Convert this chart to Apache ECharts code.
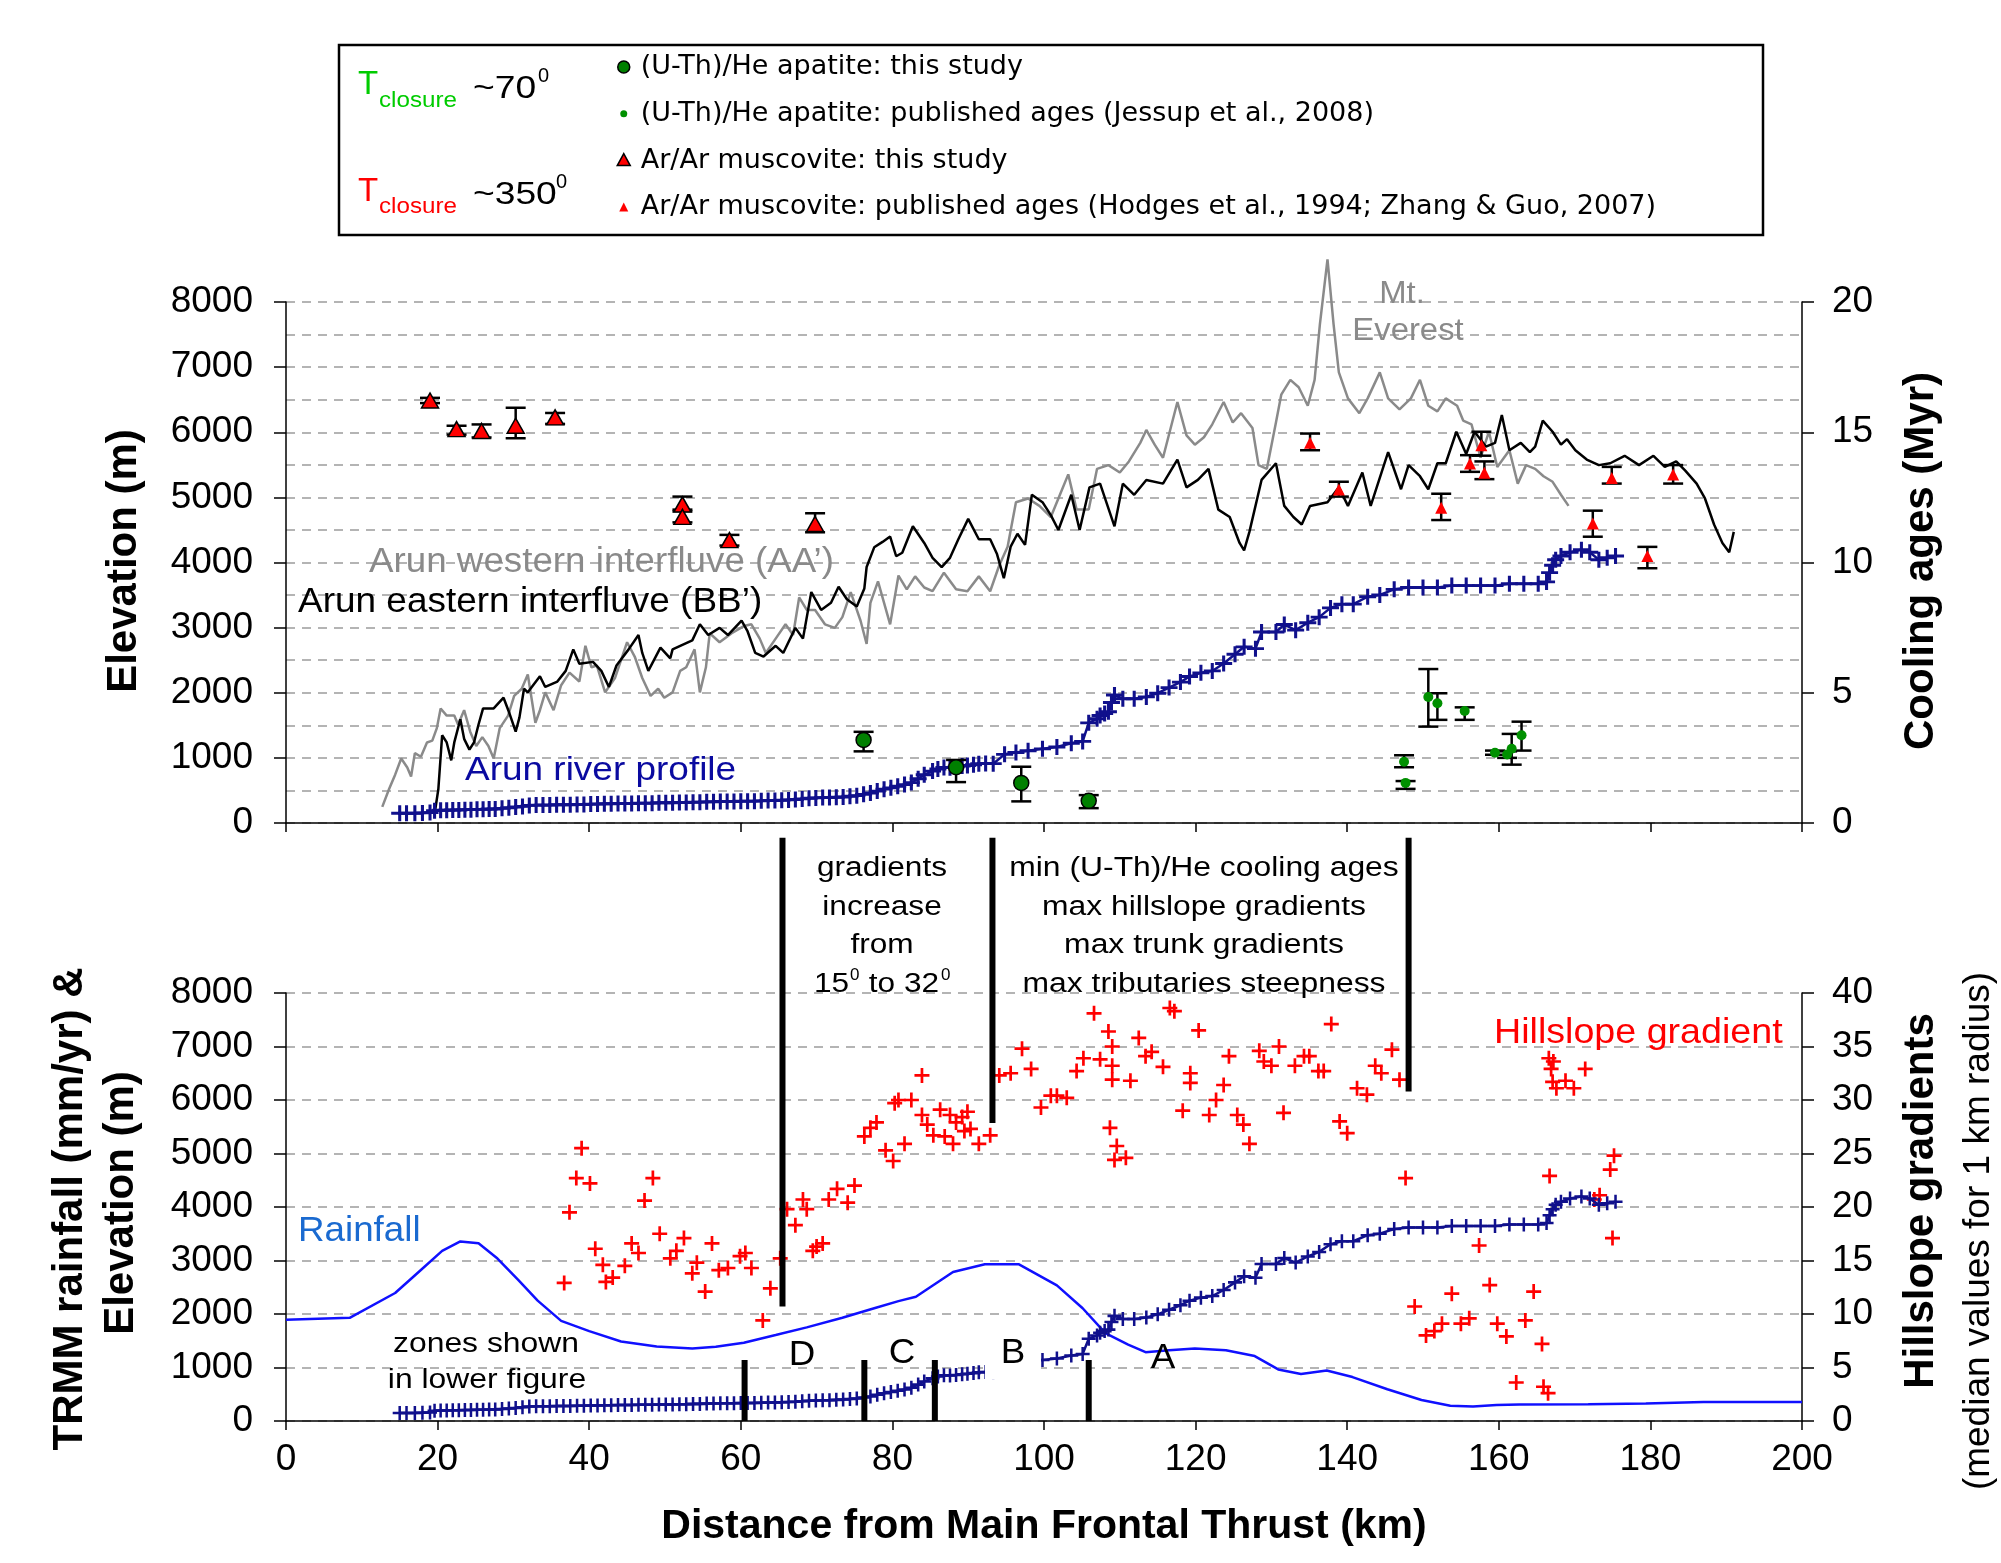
<!DOCTYPE html>
<html><head><meta charset="utf-8">
<script src="https://cdn.jsdelivr.net/npm/echarts@6/dist/echarts.min.js"></script>
<style>html,body{margin:0;padding:0;background:#fff}#c{width:2001px;height:1563px}</style>
</head><body><div id="c"></div>
<script>
// ---------------- DATA (km from Main Frontal Thrust) ----------------
const xTickValues = [0,20,40,60,80,100,120,140,160,180,200];

// Arun western interfluve (AA') elevation profile [km, m]
const westernInterfluve = [[12.7,247],[13.6,522],[14.4,742],[15.2,990],[16.0,852],[16.5,715],[17.0,1072],[17.8,1017],[18.6,1237],[19.3,1264],[19.9,1457],[20.4,1759],[21.2,1649],[22.2,1649],[22.7,1512],[23.5,1732],[24.3,1402],[25.1,1182],[25.9,1319],[26.7,1182],[27.4,990],[28.2,1457],[29.3,1649],[30.1,1952],[31.1,2061],[31.9,2281],[32.9,1539],[33.5,1732],[34.2,2006],[35.3,1732],[36.3,2116],[37.4,2309],[38.7,2172],[39.5,2721],[40.3,2391],[41.0,2419],[42.1,2006],[43.4,2226],[45.0,2776],[46.0,2556],[47.0,2226],[48.1,1952],[49.1,2061],[49.9,1924],[51.0,2006],[52.0,2336],[52.8,2391],[53.9,2666],[54.6,2006],[55.4,2391],[55.9,2914],[57.2,2776],[58.8,2914],[60.4,3024],[61.4,3051],[62.5,2831],[63.3,2611],[64.6,2831],[65.9,3051],[66.9,2886],[67.7,3463],[68.7,3271],[69.8,3271],[71.1,3051],[72.4,2996],[73.4,3161],[74.5,3546],[75.8,3106],[76.6,2749],[77.1,3381],[78.1,3711],[78.9,3381],[79.7,3051],[80.8,3800],[81.9,3588],[83.0,3787],[84.2,3616],[85.3,3559],[86.8,3844],[88.4,3588],[89.9,3559],[91.4,3787],[92.9,3559],[94.1,3958],[95.2,4243],[96.3,4926],[97.9,4983],[99.4,4869],[100.9,4698],[102.1,5040],[103.2,5353],[104.3,4812],[105.9,4812],[107.0,5438],[108.5,5495],[110.0,5381],[111.2,5552],[112.7,5837],[113.5,6036],[114.6,5809],[115.7,5609],[117.6,6464],[118.8,5951],[119.9,5809],[121.1,5923],[122.2,6122],[123.7,6464],[124.9,6150],[126.0,6293],[127.5,6065],[128.3,5495],[129.4,5438],[130.6,6150],[131.3,6577],[132.5,6805],[133.6,6691],[134.8,6407],[135.7,6805],[136.4,7660],[137.4,8656],[138.2,7660],[138.9,6919],[140.1,6520],[141.6,6293],[142.7,6520],[144.3,6919],[145.4,6520],[146.9,6350],[148.4,6520],[149.6,6805],[150.7,6407],[151.9,6321],[153.0,6520],[154.5,6407],[155.3,6179],[156.4,6122],[157.6,5609],[158.7,6008],[159.8,5467],[161.4,5723],[162.5,5211],[163.6,5495],[164.8,5438],[165.9,5325],[167.1,5239],[168.2,5040],[169.2,4869]];

// Arun eastern interfluve (BB') elevation profile [km, m]
const easternInterfluve = [[19.6,137],[20.1,522],[20.6,1347],[21.2,1237],[21.8,962],[22.2,1237],[23.0,1594],[23.5,1292],[24.2,1127],[24.8,1237],[25.4,1512],[26.0,1759],[27.4,1759],[28.7,1924],[29.5,1677],[30.3,1402],[30.8,1622],[31.4,2061],[31.9,2006],[33.5,2254],[34.2,2089],[35.8,2172],[36.9,2336],[37.9,2666],[38.7,2446],[40.5,2474],[41.6,2336],[42.6,2089],[43.6,2419],[45.2,2666],[46.5,2886],[47.0,2611],[47.8,2336],[49.4,2694],[50.7,2529],[51.0,2666],[53.6,2804],[54.6,3051],[55.7,2886],[57.2,2996],[58.3,2886],[60.1,3106],[60.9,2941],[61.9,2611],[63.0,2556],[64.6,2721],[65.6,2611],[67.2,2996],[68.2,2831],[69.3,3546],[70.6,3271],[71.9,3381],[72.9,3628],[74.0,3436],[75.3,3326],[76.3,3601],[76.6,3931],[77.6,4233],[78.7,4316],[79.7,4398],[80.5,4096],[81.3,4150],[82.7,4556],[84.2,4300],[85.3,4072],[86.5,3929],[87.6,4072],[88.7,4357],[90.0,4670],[91.4,4357],[92.9,4357],[93.8,4129],[94.7,3759],[95.6,4243],[96.5,4442],[97.5,4271],[98.4,5040],[99.8,4926],[100.9,4727],[101.9,4499],[103.6,5040],[104.7,4499],[106.0,5154],[107.4,5211],[109.3,4556],[110.4,5211],[111.9,5040],[113.5,5268],[115.7,5211],[117.6,5581],[118.8,5154],[120.3,5268],[121.7,5438],[123.0,4812],[124.5,4698],[125.8,4300],[126.4,4186],[127.1,4470],[128.7,5268],[130.6,5524],[131.7,4869],[132.9,4698],[134.0,4584],[135.1,4869],[137.4,4926],[138.9,5154],[140.1,4869],[142.0,5381],[143.1,4869],[145.4,5695],[147.1,5125],[148.1,5495],[149.6,5325],[150.7,5125],[151.9,5524],[153.0,5524],[154.4,6008],[155.7,5666],[156.8,6008],[158.3,5780],[159.5,5837],[160.4,6264],[161.4,5723],[162.9,5837],[164.1,5695],[164.8,5780],[165.8,6179],[167.1,6008],[168.2,5809],[169.0,5894],[170.1,5723],[171.6,5581],[173.2,5495],[174.7,5524],[176.6,5638],[178.5,5495],[180.4,5638],[181.9,5467],[183.4,5552],[184.6,5410],[186.1,5211],[187.2,4983],[188.4,4584],[189.5,4300],[190.4,4157],[191.0,4470]];

// Arun river profile [km, m]
const riverProfile = [[15.0,150],[15.9,150],[17.0,150],[18.0,155],[19.0,160],[19.6,190],[20.4,195],[21.2,195],[22.0,200],[22.8,200],[23.6,205],[24.4,205],[25.2,210],[26.0,210],[26.8,215],[27.6,215],[28.5,225],[29.4,235],[30.3,245],[31.2,255],[32.1,270],[33.0,275],[33.9,275],[34.8,275],[35.7,280],[36.6,280],[37.5,280],[38.4,285],[39.3,285],[40.2,290],[41.1,290],[42.0,295],[42.9,295],[43.8,300],[44.7,300],[45.6,300],[46.5,305],[47.4,305],[48.3,305],[49.2,310],[50.1,310],[51.0,310],[51.9,315],[52.8,315],[53.7,320],[54.6,320],[55.5,325],[56.4,325],[57.3,330],[58.2,330],[59.1,330],[60.0,335],[60.9,335],[61.8,335],[62.7,340],[63.6,345],[64.5,345],[65.4,350],[66.3,355],[67.2,360],[68.1,370],[69.0,380],[69.9,385],[70.8,390],[71.7,390],[72.6,395],[73.5,400],[74.4,410],[75.3,420],[76.2,440],[77.1,460],[78.0,490],[78.9,520],[79.8,540],[80.7,565],[81.6,590],[82.5,620],[83.4,680],[84.2,740],[85.3,797],[86.0,830],[86.8,854],[87.6,850],[88.4,860],[89.2,875],[89.9,883],[90.7,895],[91.4,911],[92.3,915],[93.3,911],[94.8,1054],[96.3,1082],[97.9,1110],[99.8,1139],[101.7,1167],[103.6,1224],[105.1,1253],[105.9,1538],[107.0,1600],[107.4,1651],[108.0,1680],[108.5,1708],[108.9,1851],[109.3,1965],[110.4,1908],[111.9,1908],[113.5,1936],[115.0,1993],[116.5,2079],[118.0,2164],[119.2,2249],[120.7,2306],[122.2,2335],[123.7,2449],[125.2,2591],[126.4,2705],[127.9,2677],[128.7,2933],[130.6,2933],[131.7,3047],[133.2,2961],[134.8,3075],[136.3,3161],[137.8,3303],[139.3,3360],[140.8,3360],[142.7,3474],[144.3,3502],[146.2,3588],[148.1,3616],[150.0,3616],[151.9,3616],[153.8,3645],[155.7,3645],[157.6,3645],[159.5,3645],[161.4,3673],[163.3,3673],[165.2,3673],[166.3,3702],[166.7,3844],[167.1,3958],[167.5,4043],[168.2,4100],[169.4,4157],[170.9,4197],[172.0,4157],[173.2,4043],[174.3,4072],[175.4,4100]];

// Cooling ages [km, age Myr, error low, error high]
const arArThisStudy = [[19.0,16.22,16.12,16.32],[22.5,15.12,14.91,15.25],[25.8,15.05,14.8,15.3],[30.3,15.25,14.77,15.94],[35.5,15.57,15.32,15.74],[52.3,12.23,12.03,12.53],[52.3,11.75,11.54,11.96],[58.5,10.86,10.65,11.06],[69.8,11.48,11.16,11.89]];
const arArPublished = [[135.1,14.6,14.31,14.95],[138.9,12.8,12.53,13.1],[152.4,12.1,11.63,12.64],[156.2,13.8,13.48,14.12],[157.7,14.5,14.1,15.02],[158.1,13.45,13.2,13.88],[172.4,11.5,10.99,11.99],[174.9,13.24,13.03,13.67],[179.6,10.25,9.78,10.6],[183.0,13.38,13.03,13.74]];
const uThHeThisStudy = [[76.2,3.19,2.75,3.5],[88.4,2.14,1.57,2.42],[97.0,1.54,0.83,2.16],[105.9,0.85,0.57,1.07]];
const uThHePublished = [[147.5,2.35,2.14,2.6],[147.7,1.54,1.31,1.61],[150.7,4.84,3.7,5.91],[151.9,4.6,3.96,4.98],[155.5,4.3,3.96,4.44],[159.5,2.7,2.62,2.78],[161.1,2.63,2.5,2.75],[161.7,2.85,2.24,3.42],[163.0,3.37,2.78,3.89]];

// TRMM rainfall [km, mm/yr]
const rainfall = [[0,1893],[8.4,1929],[14.4,2393],[17.5,2786],[20.6,3179],[23.0,3357],[25.4,3321],[27.9,3036],[30.6,2643],[33.2,2250],[36.3,1871],[40.0,1679],[44.2,1486],[48.9,1393],[53.6,1357],[56.7,1386],[60.4,1464],[64.6,1607],[68.7,1750],[73.4,1929],[77.6,2107],[80.8,2240],[83.1,2321],[88.0,2786],[92.2,2929],[96.7,2929],[101.7,2536],[105.1,2107],[108.1,1643],[111.1,1429],[113.4,1286],[116.5,1321],[119.9,1357],[124.0,1321],[127.8,1214],[130.9,964],[133.9,879],[137.3,943],[140.7,821],[145.3,593],[149.8,393],[153.6,286],[156.6,271],[159.7,300],[162.7,307],[171.8,314],[179.4,329],[187.0,357],[200.0,357]];

// Hillslope gradient (median for 1 km radius) [km, degrees]
const hillslopeGradient = [[36.7,12.9],[37.4,19.5],[38.3,22.7],[39.0,25.5],[40.1,22.2],[40.8,16.1],[41.8,14.6],[42.2,13.0],[43.1,13.4],[44.7,14.5],[45.6,16.6],[46.5,15.7],[47.3,20.6],[48.4,22.7],[49.3,17.5],[50.7,15.2],[51.5,15.9],[52.5,17.1],[53.6,13.8],[54.2,14.8],[55.3,12.1],[56.2,16.6],[57.1,14.1],[58.3,14.3],[59.9,15.4],[60.6,15.7],[61.4,14.3],[62.9,9.4],[63.9,12.4],[65.2,15.2],[66.1,19.8],[67.2,18.3],[68.2,20.7],[68.7,19.8],[69.5,15.9],[70.0,16.3],[70.8,16.6],[71.6,20.7],[72.7,21.7],[74.1,20.4],[75.0,22.0],[76.3,26.6],[77.1,27.4],[77.9,27.9],[79.1,25.3],[80.1,24.3],[80.3,29.7],[80.8,30.0],[81.6,25.9],[82.5,30.0],[83.9,32.3],[83.9,28.6],[84.6,27.7],[85.4,26.7],[86.3,29.1],[86.9,26.6],[87.6,28.6],[88.0,25.9],[88.4,27.9],[89.2,28.4],[89.5,27.1],[89.9,28.9],[90.3,27.3],[91.4,25.9],[92.9,26.7],[94.1,32.3],[95.6,32.5],[97.1,34.8],[98.3,32.9],[99.6,29.3],[100.9,30.4],[101.7,30.4],[103.0,30.2],[104.3,32.7],[105.2,33.9],[106.6,38.1],[107.4,33.8],[108.5,36.4],[109.0,35.0],[109.0,33.2],[109.0,31.9],[108.7,27.4],[109.6,25.7],[109.3,24.4],[110.8,24.6],[111.4,31.8],[112.5,35.8],[113.4,34.1],[114.2,34.5],[115.7,33.1],[116.6,38.6],[117.2,38.3],[118.3,29.0],[119.3,32.5],[119.3,31.6],[120.4,36.5],[121.8,28.6],[122.7,30.0],[123.7,31.4],[124.4,34.1],[125.5,28.6],[126.3,27.7],[127.1,25.9],[128.4,34.6],[129.0,33.6],[130.0,33.2],[131.0,35.0],[131.6,28.8],[133.1,33.2],[134.3,34.1],[135.0,34.1],[136.2,32.7],[136.9,32.7],[137.9,37.1],[139.0,28.0],[140.0,26.9],[141.3,31.1],[142.6,30.5],[143.7,33.2],[144.5,32.5],[145.9,34.7],[146.9,31.9],[147.7,22.7],[148.9,10.7],[150.4,8.0],[151.5,8.4],[152.5,9.1],[153.8,11.9],[155.0,9.1],[156.1,9.6],[157.4,16.4],[158.8,12.7],[159.8,9.1],[161.0,7.9],[162.3,3.6],[163.5,9.4],[164.6,12.1],[165.7,7.2],[165.9,3.2],[166.5,2.6],[166.7,22.9],[166.6,33.9],[166.9,32.9],[167.1,31.7],[167.2,33.6],[167.6,31.1],[168.8,31.8],[169.9,31.1],[171.4,32.9],[172.6,20.7],[173.3,21.1],[174.7,23.5],[175.2,24.8],[175.0,17.1]];

// Vertical marker bars in lower chart [km, bottom m, top m]
const zoneBars = [[60.5,0,1140],[76.3,0,1140],[85.6,0,1140],[105.9,0,1140]];
const annotationBars = [[65.5,2140,10900],[93.2,5570,10900],[148.1,6160,10900]];

// ---------------- CHART ----------------
const F = "'Liberation Sans', Arial, sans-serif";
const N_HE_THIS = '(U-Th)/He apatite: this study';
const N_HE_PUB = '(U-Th)/He apatite: published ages (Jessup et al., 2008)';
const N_AR_THIS = 'Ar/Ar muscovite: this study';
const N_AR_PUB = 'Ar/Ar muscovite: published ages (Hodges et al., 1994; Zhang & Guo, 2007)';
const CROSS = 'path://M-1.8,-10L1.8,-10L1.8,-1.8L10,-1.8L10,1.8L1.8,1.8L1.8,10L-1.8,10L-1.8,1.8L-10,1.8L-10,-1.8L-1.8,-1.8Z';
const NAVY = '#10108c';
const GRID_COLOR = '#9c9c9c';

function T(text, x, y, o) {
  o = o || {};
  const st = {text: text, fontFamily: o.ff || F, fontSize: o.fs || 30, fontWeight: o.fw || 'normal',
    fill: o.c || '#000', align: o.al || 'center', verticalAlign: 'middle'};
  if (o.bg) { st.backgroundColor = o.bg; st.padding = o.pad; }
  return {type: 'text', x: x, y: y, rotation: o.rot || 0, scaleX: o.sx || 1, z: 50, style: st};
}
const plain = function (v) { return String(v); };

function axisX(gi, showLabels) {
  return {gridIndex: gi, type: 'value', min: 0, max: 200, interval: 20,
    axisLine: {show: true, onZero: false, lineStyle: {color: '#000', width: 1.5}},
    axisTick: {show: true, inside: false, length: 9, lineStyle: {color: '#000', width: 1.5}},
    axisLabel: {show: showLabels, fontSize: 37, color: '#000', fontFamily: F, margin: 20, formatter: plain},
    splitLine: {show: false}};
}
function axisY(gi, pos, max, interval, split, minor) {
  const a = {gridIndex: gi, type: 'value', position: pos, min: 0, max: max, interval: interval,
    axisLine: {show: true, onZero: false, lineStyle: {color: '#000', width: 1.5}},
    axisTick: {show: true, inside: false, length: 12, lineStyle: {color: '#000', width: 1.5}},
    axisLabel: {fontSize: 37, color: '#000', fontFamily: F, margin: pos === 'left' ? 33 : 30, formatter: plain},
    splitLine: {show: split, lineStyle: {color: GRID_COLOR, width: 1.5, type: [9, 7]}}};
  if (minor) {
    a.minorTick = {show: false, splitNumber: 2};
    a.minorSplitLine = {show: true, lineStyle: {color: GRID_COLOR, width: 1.5, type: [9, 7]}};
  }
  return a;
}

function errorBar(params, api) {
  const x = api.value(0), lo = api.value(2), hi = api.value(3);
  const t = api.coord([x, hi]), b = api.coord([x, lo]);
  const w = 10, st = {stroke: '#000', lineWidth: 2.5};
  return {type: 'group', children: [
    {type: 'line', shape: {x1: t[0], y1: t[1], x2: b[0], y2: b[1]}, style: st},
    {type: 'line', shape: {x1: t[0] - w, y1: t[1], x2: t[0] + w, y2: t[1]}, style: st},
    {type: 'line', shape: {x1: b[0] - w, y1: b[1], x2: b[0] + w, y2: b[1]}, style: st}]};
}
function vBar(params, api) {
  const x = api.value(0), lo = api.value(1), hi = api.value(2);
  const t = api.coord([x, hi]), b = api.coord([x, lo]);
  return {type: 'rect', shape: {x: t[0] - 3, y: t[1], width: 6, height: b[1] - t[1]}, style: {fill: '#000'}};
}

const chart = echarts.init(document.getElementById('c'), null, {renderer: 'canvas'});
const option = {
  animation: false,
  backgroundColor: '#fff',
  grid: [
    {left: 286, top: 302, width: 1516, height: 521, outerBoundsMode: 'none'},
    {left: 286, top: 993, width: 1516, height: 428, outerBoundsMode: 'none'}
  ],
  xAxis: [axisX(0, false), axisX(1, true)],
  yAxis: [
    axisY(0, 'left', 8000, 1000, true, true),
    axisY(0, 'right', 20, 5, false, false),
    axisY(1, 'left', 8000, 1000, true, false),
    axisY(1, 'right', 40, 5, false, false)
  ],
  legend: {
    orient: 'vertical', left: 613, top: 50, itemGap: 12.8, itemWidth: 20, itemHeight: 20,
    selectedMode: false, padding: 0,
    textStyle: {fontFamily: "'DejaVu Sans', sans-serif", fontSize: 27, color: '#000', lineHeight: 34, padding: [0, 0, 0, 2]},
    data: [
      {name: N_HE_THIS, icon: 'path://M0,0M20,20M4,10a6,6 0 1,0 12,0a6,6 0 1,0 -12,0Z', itemStyle: {color: '#008000', borderColor: '#000', borderWidth: 1.5}},
      {name: N_HE_PUB, icon: 'path://M0,0M20,20M6.5,10a3.5,3.5 0 1,0 7,0a3.5,3.5 0 1,0 -7,0Z', itemStyle: {color: '#009000'}},
      {name: N_AR_THIS, icon: 'path://M0,0M20,20M10,3L16.5,15L3.5,15Z', itemStyle: {color: '#ff0000', borderColor: '#000', borderWidth: 1.5}},
      {name: N_AR_PUB, icon: 'path://M0,0M20,20M10,5L14.5,14L5.5,14Z', itemStyle: {color: '#ff0000'}}
    ]
  },
  series: [
    {name: 'Arun western interfluve (AA’)', type: 'line', xAxisIndex: 0, yAxisIndex: 0, data: westernInterfluve,
      symbol: 'none', clip: false, lineStyle: {color: '#8a8a8a', width: 2.5}, z: 2},
    {name: 'Arun eastern interfluve (BB’)', type: 'line', xAxisIndex: 0, yAxisIndex: 0, data: easternInterfluve,
      symbol: 'none', clip: false, lineStyle: {color: '#000', width: 2.5}, z: 3},
    {name: 'Arun river profile', type: 'line', xAxisIndex: 0, yAxisIndex: 0, data: riverProfile,
      symbol: CROSS, symbolSize: [17, 16], showAllSymbol: true, lineStyle: {color: NAVY, width: 2.5},
      itemStyle: {color: NAVY}, z: 4},
    {name: 'error bars', type: 'custom', xAxisIndex: 0, yAxisIndex: 1, renderItem: errorBar, clip: false,
      data: [].concat(arArThisStudy, arArPublished, uThHeThisStudy, uThHePublished),
      encode: {x: 0, y: [1, 2, 3]}, z: 5},
    {name: N_HE_THIS, type: 'scatter', xAxisIndex: 0, yAxisIndex: 1, data: uThHeThisStudy, symbol: 'circle', symbolSize: 15,
      itemStyle: {color: '#008000', borderColor: '#000', borderWidth: 1.5, opacity: 1}, z: 6},
    {name: N_HE_PUB, type: 'scatter', xAxisIndex: 0, yAxisIndex: 1, data: uThHePublished, symbol: 'circle', symbolSize: 10,
      itemStyle: {color: '#009000', opacity: 1}, z: 6},
    {name: N_AR_THIS, type: 'scatter', xAxisIndex: 0, yAxisIndex: 1, data: arArThisStudy, symbol: 'triangle', symbolSize: [17, 15],
      itemStyle: {color: '#ff0000', borderColor: '#000', borderWidth: 1.5, opacity: 1}, z: 6},
    {name: N_AR_PUB, type: 'scatter', xAxisIndex: 0, yAxisIndex: 1, data: arArPublished, symbol: 'triangle', symbolSize: [12, 12],
      itemStyle: {color: '#ff0000', opacity: 1}, z: 6},

    {name: 'Rainfall', type: 'line', xAxisIndex: 1, yAxisIndex: 2, data: rainfall, symbol: 'none',
      lineStyle: {color: '#1010ff', width: 2.5}, z: 2},
    {name: 'Hillslope gradient', type: 'scatter', xAxisIndex: 1, yAxisIndex: 3, data: hillslopeGradient,
      symbol: CROSS, symbolSize: 15, itemStyle: {color: '#ff0000', opacity: 1}, z: 3},
    {name: 'Arun river profile (lower)', type: 'line', xAxisIndex: 1, yAxisIndex: 2, data: riverProfile,
      symbol: CROSS, symbolSize: [14, 14], showAllSymbol: true, lineStyle: {color: NAVY, width: 2.5},
      itemStyle: {color: NAVY}, z: 4},
    {name: 'zone bars', type: 'custom', xAxisIndex: 1, yAxisIndex: 2, renderItem: vBar, clip: false,
      data: [].concat(zoneBars, annotationBars), encode: {x: 0, y: [1, 2]}, z: 8}
  ],
  graphic: [
    {type: 'rect', z: 1, shape: {x: 339, y: 45, width: 1424, height: 190}, style: {fill: 'none', stroke: '#000', lineWidth: 2.5}},
    T('T', 358, 85, {fs: 33, c: '#00cc00', al: 'left'}),
    T('closure', 379, 101, {fs: 22, c: '#00cc00', al: 'left', sx: 1.1}),
    T('~70', 473, 89, {fs: 31, al: 'left', sx: 1.2}),
    T('0', 538, 76, {fs: 20, al: 'left'}),
    T('T', 358, 192, {fs: 33, c: '#ff0000', al: 'left'}),
    T('closure', 379, 207, {fs: 22, c: '#ff0000', al: 'left', sx: 1.1}),
    T('~350', 473, 195, {fs: 31, al: 'left', sx: 1.2}),
    T('0', 556, 182, {fs: 20, al: 'left'}),

    T('Elevation (m)', 124, 561, {fs: 42, fw: 'bold', rot: Math.PI / 2}),
    T('Cooling ages (Myr)', 1921, 561, {fs: 42, fw: 'bold', rot: Math.PI / 2}),
    T('TRMM rainfall (mm/yr) &', 70, 1209, {fs: 42, fw: 'bold', rot: Math.PI / 2}),
    T('Elevation (m)', 121, 1203, {fs: 42, fw: 'bold', rot: Math.PI / 2}),
    T('Hillslope gradients', 1921, 1201, {fs: 42, fw: 'bold', rot: Math.PI / 2}),
    T('(median values for 1 km radius)', 1979, 1231, {fs: 37, rot: Math.PI / 2}),
    T('Distance from Main Frontal Thrust (km)', 1044, 1527, {fs: 41, fw: 'bold'}),

    T('Mt.', 1402, 294, {fs: 31, c: '#8a8a8a', sx: 1.06}),
    T('Everest', 1408, 331, {fs: 31, c: '#8a8a8a', sx: 1.06}),
    T('Arun western interfluve (AA’)', 369, 562, {fs: 35, c: '#8a8a8a', al: 'left', sx: 1.05}),
    T('Arun eastern interfluve (BB’)', 298, 602, {fs: 35, al: 'left', sx: 1.056}),
    T('Arun river profile', 465, 771, {fs: 33, c: '#0a0aa0', al: 'left', sx: 1.12}),

    T('gradients', 882, 869, {fs: 27, sx: 1.17}),
    T('increase', 882, 908, {fs: 27, sx: 1.17}),
    T('from', 882, 946, {fs: 27, sx: 1.17}),
    T('15', 814, 985, {fs: 27, al: 'left', sx: 1.17}),
    T('0', 850, 975, {fs: 17, al: 'left'}),
    T(' to 32', 860, 985, {fs: 27, al: 'left', sx: 1.17}),
    T('0', 941, 975, {fs: 17, al: 'left'}),
    T('min (U-Th)/He cooling ages', 1204, 869, {fs: 27, sx: 1.18}),
    T('max hillslope gradients', 1204, 908, {fs: 27, sx: 1.18}),
    T('max trunk gradients', 1204, 946, {fs: 27, sx: 1.18}),
    T('max tributaries steepness', 1204, 985, {fs: 27, sx: 1.18}),
    T('Hillslope gradient', 1494, 1033, {fs: 35, c: '#ff0000', al: 'left', sx: 1.075}),
    T('Rainfall', 298, 1231, {fs: 35, c: '#1a6ad0', al: 'left', sx: 1.05}),
    T('zones shown', 486, 1345, {fs: 27, sx: 1.18}),
    T('in lower figure', 487, 1381, {fs: 27, sx: 1.18}),
    T('D', 802, 1355, {fs: 35, sx: 1.05}),
    T('C', 902, 1353, {fs: 35, sx: 1.05}),
    T('B', 1013, 1353, {fs: 35, sx: 1.05, bg: '#fff', pad: [6, 15, 12, 15]}),
    T('A', 1163, 1358, {fs: 35, sx: 1.05})
  ]
};
chart.setOption(option);
</script>
</body></html>
